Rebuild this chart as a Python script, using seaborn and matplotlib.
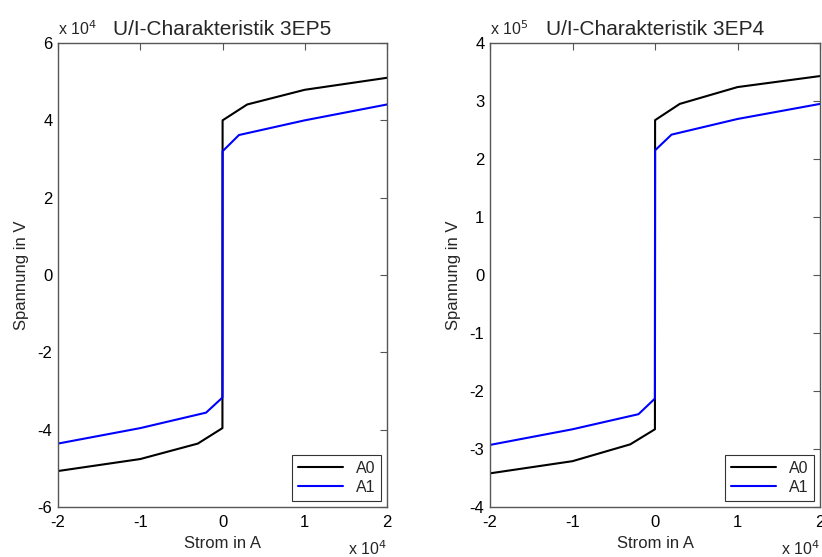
import numpy as np
import pandas as pd
import matplotlib
matplotlib.use("Agg")
import matplotlib.pyplot as plt
import seaborn as sns

# Strom in A
strom_a0 = [-20000, -10000, -3000, -10, 10, 3000, 10000, 20000]
strom_a1 = [-20000, -10000, -2000, -10, 10, 2000, 10000, 20000]

# Spannung in V, 3EP5
u_3ep5_a0 = [-5.07e4, -4.76e4, -4.36e4, -3.96e4, 4.0e4, 4.41e4, 4.79e4, 5.10e4]
u_3ep5_a1 = [-4.36e4, -3.96e4, -3.56e4, -3.17e4, 3.2e4, 3.62e4, 4.0e4, 4.41e4]

# Spannung in V, 3EP4
u_3ep4_a0 = [-3.42e5, -3.21e5, -2.92e5, -2.66e5, 2.67e5, 2.95e5, 3.24e5, 3.43e5]
u_3ep4_a1 = [-2.93e5, -2.66e5, -2.40e5, -2.13e5, 2.15e5, 2.42e5, 2.69e5, 2.95e5]

titles = ["U/I-Charakteristik 3EP5", "U/I-Charakteristik 3EP4"]
y_exp = [4, 5]
y_ticks = [[-6, -4, -2, 0, 2, 4, 6], [-4, -3, -2, -1, 0, 1, 2, 3, 4]]
x_ticks = [-2, -1, 0, 1, 2]

sns.set_style("white")
plt.rcParams["font.family"] = ["Liberation Sans", "DejaVu Sans"]

fig = plt.figure(figsize=(8.22, 5.57), dpi=100)
ax1 = fig.add_axes([0.0706, 0.0898, 0.4002, 0.833])
ax2 = fig.add_axes([0.5961, 0.0898, 0.4015, 0.833])

panels = [
    (ax1, u_3ep5_a0, u_3ep5_a1),
    (ax2, u_3ep4_a0, u_3ep4_a1),
]

for i, (ax, a0, a1) in enumerate(panels):
    scale = 10.0 ** y_exp[i]
    d0 = pd.DataFrame({"I": np.array(strom_a0) / 1e4, "U": np.array(a0) / scale})
    d1 = pd.DataFrame({"I": np.array(strom_a1) / 1e4, "U": np.array(a1) / scale})
    sns.lineplot(data=d0, x="I", y="U", sort=False, estimator=None,
                 color="black", lw=1.5, label="A0", ax=ax)
    sns.lineplot(data=d1, x="I", y="U", sort=False, estimator=None,
                 color="#0000ff", lw=1.5, label="A1", ax=ax)

    yt = y_ticks[i]
    ax.set_xlim(-2, 2)
    ax.set_ylim(yt[0], yt[-1])
    ax.set_xticks(x_ticks)
    ax.set_yticks(yt)
    ax.set_xticklabels([str(t) for t in x_ticks])
    ax.set_yticklabels([str(t) for t in yt])
    ax.tick_params(direction="in", length=5, width=0.8, top=True, right=True,
                   labelsize=12, colors="#555555", labelcolor="black", pad=4)
    ax.tick_params(axis="x", pad=6)
    for s in ax.spines.values():
        s.set_color("#555555")
        s.set_linewidth(1)

    ax.set_xlabel("Strom in A", fontsize=12, labelpad=4)
    ax.set_ylabel("Spannung in V", fontsize=12, labelpad=6)
    ax.set_title(titles[i], fontsize=15, pad=6)

    ax.text(0.0, 1.01, r"x 10$^{%d}$" % y_exp[i], transform=ax.transAxes,
            fontsize=11.5, ha="left", va="bottom")
    ax.text(1.0, -0.07, r"x 10$^{4}$", transform=ax.transAxes,
            fontsize=11.5, ha="right", va="top")

    leg = ax.legend(loc="lower right", fontsize=11.5, frameon=True, fancybox=False,
                    borderaxespad=0.4, handlelength=2.8, borderpad=0.35,
                    labelspacing=0.25)
    leg.get_frame().set_edgecolor("black")
    leg.get_frame().set_linewidth(0.8)

fig.savefig("out.png", dpi=100)
